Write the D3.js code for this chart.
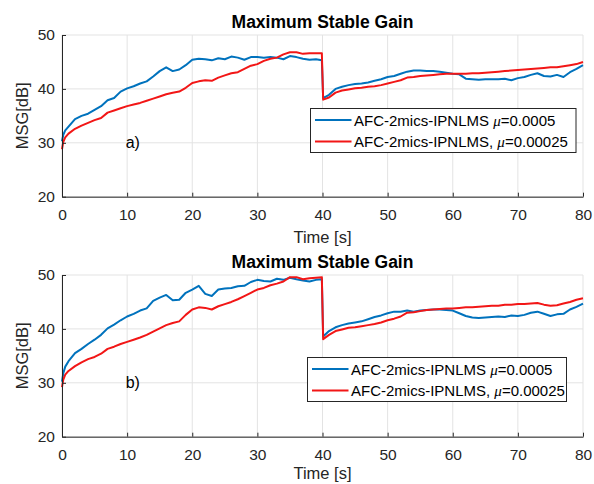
<!DOCTYPE html>
<html>
<head>
<meta charset="utf-8">
<script src="https://cdn.jsdelivr.net/npm/d3@7"></script>
<style>
  html, body { margin: 0; padding: 0; background: #fff; }
  svg { display: block; font-family: "Liberation Sans", Arial, Helvetica, sans-serif; }
</style>
</head>
<body>
<svg id="chart" width="594" height="484"></svg>
<script>
// Time samples (s) shared by every curve
const time = [0, 0.2, 0.5,
  1, 2, 3, 4, 5, 6, 7, 8, 9, 10, 11, 12, 13, 14, 15, 16, 17, 18, 19, 20,
  21, 22, 23, 24, 25, 26, 27, 28, 29, 30, 31, 32, 33, 34, 35, 36, 37, 38, 39,
  39.9, 40.1,
  41, 42, 43, 44, 45, 46, 47, 48, 49, 50, 51, 52, 53, 54, 55, 56, 57, 58, 59, 60,
  61, 62, 63, 64, 65, 66, 67, 68, 69, 70, 71, 72, 73, 74, 75, 76, 77, 78, 79, 80];

// Panel a) MSG in dB
const msgA_mu0005 = [30.3, 31.5, 32.3,
  33.0, 34.4, 35.0, 35.4, 36.1, 36.8, 37.9, 38.3, 39.5, 40.1, 40.5, 41.0, 41.4, 42.3, 43.3, 44.0, 43.3, 43.6, 44.4, 45.4,
  45.6, 45.5, 45.3, 45.7, 45.5, 46.0, 45.8, 45.4, 45.9, 45.9, 45.8, 45.9, 45.8, 45.5, 46.1, 45.9, 45.6, 45.4, 45.5,
  45.3, 38.3,
  38.9, 40.0, 40.4, 40.7, 40.9, 41.0, 41.2, 41.5, 41.8, 42.2, 42.4, 42.8, 43.2, 43.4, 43.4, 43.3, 43.3, 43.2, 43.0, 42.8,
  42.7, 41.9, 41.8, 41.7, 41.8, 41.8, 41.8, 41.9, 41.6, 42.0, 42.2, 42.6, 42.9, 42.4, 42.3, 42.6, 42.2, 43.1, 43.7, 44.4];
const msgA_mu00025 = [28.8, 30.2, 31.0,
  31.7, 32.6, 33.2, 33.7, 34.2, 34.6, 35.6, 36.0, 36.4, 36.8, 37.1, 37.4, 37.8, 38.2, 38.6, 39.0, 39.3, 39.5, 40.2, 41.1,
  41.4, 41.6, 41.5, 42.1, 42.5, 42.9, 43.1, 43.7, 44.3, 44.6, 45.2, 45.6, 45.8, 46.4, 46.8, 46.8, 46.5, 46.6, 46.6,
  46.6, 38.0,
  38.4, 39.3, 39.7, 39.9, 40.1, 40.2, 40.4, 40.5, 40.7, 41.0, 41.3, 41.6, 42.1, 42.2, 42.4, 42.5, 42.6, 42.7, 42.8, 42.8,
  42.8, 42.8, 42.9, 42.9, 43.0, 43.1, 43.2, 43.3, 43.4, 43.5, 43.6, 43.7, 43.8, 43.9, 44.0, 44.0, 44.2, 44.4, 44.6, 45.0];

// Panel b) MSG in dB
const msgB_mu0005 = [30.2, 31.8, 33.0,
  34.0, 35.5, 36.3, 37.2, 38.0, 38.9, 40.1, 40.8, 41.6, 42.3, 42.8, 43.4, 43.8, 45.2, 45.8, 46.3, 45.3, 45.4, 46.7, 47.3,
  48.0, 46.5, 46.1, 47.3, 47.5, 47.6, 47.9, 48.0, 48.7, 49.1, 48.9, 48.8, 49.3, 49.1, 49.5, 49.2, 49.0, 48.8, 49.1,
  49.2, 38.6,
  39.6, 40.3, 40.7, 41.0, 41.2, 41.4, 41.8, 42.2, 42.5, 42.9, 43.2, 43.2, 43.4, 43.2, 43.4, 43.5, 43.6, 43.6, 43.5, 43.4,
  42.9, 42.4, 42.1, 42.0, 42.1, 42.2, 42.3, 42.2, 42.5, 42.4, 42.6, 43.0, 43.2, 42.8, 42.4, 42.7, 42.8, 43.6, 44.1, 44.7];
const msgB_mu00025 = [29.2, 30.6, 31.5,
  32.2, 33.1, 33.8, 34.4, 34.8, 35.4, 36.3, 36.7, 37.2, 37.6, 38.0, 38.4, 38.9, 39.5, 40.1, 40.7, 41.1, 41.4, 42.6, 43.6,
  44.0, 43.9, 43.6, 44.2, 44.6, 45.0, 45.5, 46.1, 46.7, 47.3, 47.6, 48.1, 48.4, 48.8, 49.6, 49.6, 49.2, 49.4, 49.5,
  49.6, 38.1,
  38.9, 39.6, 39.9, 40.2, 40.3, 40.5, 40.7, 40.9, 41.2, 41.6, 41.9, 42.3, 43.0, 43.1, 43.3, 43.5, 43.6, 43.7, 43.8, 43.8,
  43.9, 44.0, 44.0, 44.1, 44.2, 44.3, 44.3, 44.5, 44.5, 44.6, 44.6, 44.7, 44.8, 44.5, 44.3, 44.4, 44.7, 45.0, 45.4, 45.7];

const xTicks = [0, 10, 20, 30, 40, 50, 60, 70, 80];
const yTicks = [20, 30, 40, 50];
const seriesNames = ["AFC-2mics-IPNLMS ", "AFC-2mics-IPNLMS, "];
const seriesMu = ["=0.0005", "=0.00025"];
const seriesColors = ["#0072BD", "#F21616"];
const panelTitle = "Maximum Stable Gain";
const panelTags = ["a)", "b)"];

const svg = d3.select("#chart");
const axisColor = "#262626";
const gridColor = "#e3e3e3";

function drawPanel(top, bottom, tag, curves, legend, xLabelGap) {
  const x = d3.scaleLinear().domain([0, 80]).range([62, 583]);
  const y = d3.scaleLinear().domain([20, 50]).range([bottom, top]);
  const g = svg.append("g");

  // grid
  g.selectAll(".gx").data(xTicks).join("line")
    .attr("x1", d => x(d)).attr("x2", d => x(d))
    .attr("y1", top).attr("y2", bottom)
    .attr("stroke", gridColor).attr("stroke-width", 1);
  g.selectAll(".gy").data(yTicks).join("line")
    .attr("x1", x(0)).attr("x2", x(80))
    .attr("y1", d => y(d)).attr("y2", d => y(d))
    .attr("stroke", gridColor).attr("stroke-width", 1);

  // curves
  const line = d3.line().x(d => x(d[0])).y(d => y(d[1]));
  curves.forEach((vals, i) => {
    g.append("path")
      .datum(time.map((t, k) => [t, vals[k]]))
      .attr("d", line)
      .attr("fill", "none")
      .attr("stroke", seriesColors[i])
      .attr("stroke-width", 2)
      .attr("stroke-linejoin", "round");
  });

  // axes with inward ticks
  const ax = g.append("g").attr("transform", `translate(0,${bottom})`)
    .call(d3.axisBottom(x).tickValues(xTicks).tickSizeInner(-4).tickSizeOuter(0).tickPadding(12));
  const ay = g.append("g").attr("transform", `translate(${x(0)},0)`)
    .call(d3.axisLeft(y).tickValues(yTicks).tickSizeInner(-4).tickSizeOuter(0).tickPadding(7));
  [ax, ay].forEach(a => {
    a.select(".domain").attr("stroke", axisColor);
    a.selectAll(".tick line").attr("stroke", axisColor);
    a.selectAll(".tick text").attr("fill", axisColor).attr("font-size", 15.5)
      .attr("font-family", "Liberation Sans, Arial, sans-serif");
  });

  // title and labels
  g.append("text").attr("x", (x(0) + x(80)) / 2).attr("y", top - 7)
    .attr("text-anchor", "middle").attr("font-weight", "bold").attr("font-size", 17.5)
    .attr("fill", "#000").text(panelTitle);
  g.append("text").attr("x", (x(0) + x(80)) / 2).attr("y", bottom + xLabelGap)
    .attr("text-anchor", "middle").attr("font-size", 16.5).attr("fill", axisColor).text("Time [s]");
  g.append("text")
    .attr("transform", `translate(28,${(top + bottom) / 2}) rotate(-90)`)
    .attr("text-anchor", "middle").attr("font-size", 16.5).attr("fill", axisColor).text("MSG[dB]");
  g.append("text").attr("x", x(10) - 1.5).attr("y", y(30) + 5.5)
    .attr("font-size", 16).attr("fill", "#000").text(tag);

  // legend
  const lg = g.append("g");
  lg.append("rect").attr("x", legend.x).attr("y", legend.y)
    .attr("width", legend.w).attr("height", legend.h)
    .attr("fill", "#fff").attr("stroke", "#262626").attr("stroke-width", 1);
  seriesNames.forEach((name, i) => {
    const ly = legend.y + 11.5 + i * 21.5;
    lg.append("line").attr("x1", legend.x + 4.5).attr("x2", legend.x + 41)
      .attr("y1", ly).attr("y2", ly)
      .attr("stroke", seriesColors[i]).attr("stroke-width", 2);
    const t = lg.append("text").attr("x", legend.x + 43.5).attr("y", ly + 5.5)
      .attr("font-size", 15).attr("fill", "#000");
    t.append("tspan").text(name);
    t.append("tspan").attr("font-family", "Liberation Serif, serif").attr("font-style", "italic").text("\u03bc");
    t.append("tspan").text(seriesMu[i]);
  });
}

drawPanel(35, 196.7, panelTags[0], [msgA_mu0005, msgA_mu00025], {x: 310.5, y: 108.5, w: 265.5, h: 44}, 46);
drawPanel(275, 436.7, panelTags[1], [msgB_mu0005, msgB_mu00025], {x: 307.5, y: 357.5, w: 259, h: 44}, 42);
</script>
</body>
</html>
